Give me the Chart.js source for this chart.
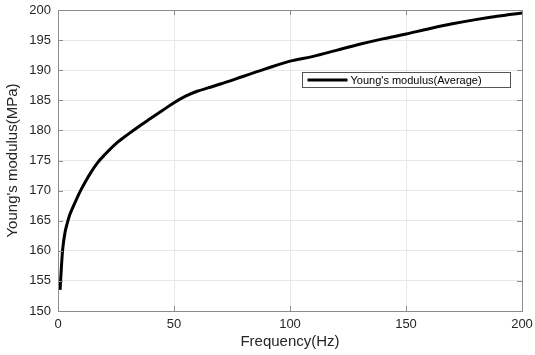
<!DOCTYPE html>
<html>
<head>
<meta charset="utf-8">
<script src="https://cdn.jsdelivr.net/npm/chart.js@4"></script>
<style>
  html, body { margin: 0; padding: 0; background: #fff; }
  #wrap { width: 535px; height: 355px; }
</style>
</head>
<body>
<div id="wrap"><canvas id="chart" width="535" height="355"></canvas></div>
<script>
'use strict';
// frequency (Hz) and average Young's modulus (MPa)
const FREQ = [0.9, 1.5, 2, 3, 4, 5, 6.5, 8, 10, 12, 14, 17, 20, 25, 30, 35, 40, 45, 50, 55, 60,
              65, 70, 80, 90, 100, 110, 120, 130, 140, 150, 160, 170, 180, 190, 200]
const MODULUS = [153.5, 157.5, 160.2, 163.0, 164.6, 165.9, 167.3, 168.6, 170.2, 171.6, 172.9, 174.6, 175.9, 177.8, 179.3, 180.7, 182.0, 183.3, 184.6, 185.7, 186.5,
                 187.1, 187.7, 189.0, 190.3, 191.5, 192.3, 193.3, 194.3, 195.2, 196.0, 196.9, 197.7, 198.4, 199.0, 199.5]
const X_TICKS = [0, 50, 100, 150, 200]
const Y_TICKS = [150, 155, 160, 165, 170, 175, 180, 185, 190, 195, 200]
const SERIES_NAME = "Young's modulus(Average)"

const AXIS = '#262626'
const BOX = '#8c8c8c'
const GRID = '#e8e8e8'
const FONT = "'Liberation Sans', Arial, sans-serif"

// MATLAB-like box with inward ticks plus an in-axes legend
const boxPlugin = {
    id: 'box',
    afterDraw(chart) {
        const ctx = chart.ctx
        const a = chart.chartArea
        const xs = chart.scales.x, ys = chart.scales.y
        ctx.save()
        ctx.strokeStyle = BOX
        ctx.lineWidth = 1
        ctx.strokeRect(a.left + 0.5, a.top + 0.5, a.right - a.left, a.bottom - a.top)
        ctx.beginPath()
        for (const v of X_TICKS) {
            const px = Math.round(xs.getPixelForValue(v)) + 0.5
            ctx.moveTo(px, a.bottom); ctx.lineTo(px, a.bottom - 5)
            ctx.moveTo(px, a.top); ctx.lineTo(px, a.top + 5)
        }
        for (const v of Y_TICKS) {
            const py = Math.round(ys.getPixelForValue(v)) + 0.5
            ctx.moveTo(a.left, py); ctx.lineTo(a.left + 5, py)
            ctx.moveTo(a.right, py); ctx.lineTo(a.right - 5, py)
        }
        ctx.stroke()

        // legend box
        const lx = 302.5, ly = 72.5, lw = 208, lh = 15
        ctx.fillStyle = '#fff'
        ctx.fillRect(lx, ly, lw, lh)
        ctx.strokeStyle = '#555'
        ctx.strokeRect(lx, ly, lw, lh)
        ctx.strokeStyle = '#000'
        ctx.lineWidth = 3
        ctx.beginPath()
        ctx.moveTo(lx + 5, ly + lh / 2); ctx.lineTo(lx + 45, ly + lh / 2)
        ctx.stroke()
        ctx.fillStyle = '#000'
        ctx.font = '11px ' + FONT
        ctx.textBaseline = 'middle'
        ctx.fillText(SERIES_NAME, lx + 48, ly + lh / 2 + 0.5)
        ctx.restore()
    }
}

const ctx = document.getElementById('chart').getContext('2d')
const chart = new Chart(ctx, {
    type: 'line',
    data: {
        datasets: [{
            label: SERIES_NAME,
            data: FREQ.map((f, i) => ({ x: f, y: MODULUS[i] })),
            borderColor: '#000',
            borderWidth: 3,
            pointRadius: 0,
            cubicInterpolationMode: 'monotone',
            fill: false
        }]
    },
    options: {
        responsive: false,
        animation: false,
        layout: { padding: { top: 10, right: 13, bottom: 0, left: 0 } },
        plugins: {
            legend: { display: false },
            tooltip: { enabled: false }
        },
        scales: {
            x: {
                type: 'linear',
                min: 0, max: 200,
                afterBuildTicks: s => { s.ticks = X_TICKS.map(v => ({ value: v })) },
                afterFit: s => { s.height = 44; s.paddingLeft = 0; s.paddingRight = 0 },
                grid: { color: GRID, drawTicks: false },
                border: { display: false },
                ticks: { color: AXIS, font: { family: FONT, size: 13 }, padding: 6, maxRotation: 0 },
                title: { display: true, text: 'Frequency(Hz)', color: AXIS, font: { family: FONT, size: 15 }, padding: { top: 0 } }
            },
            y: {
                type: 'linear',
                min: 150, max: 200,
                afterBuildTicks: s => { s.ticks = Y_TICKS.map(v => ({ value: v })) },
                afterFit: s => { s.width = 58; s.paddingTop = 0; s.paddingBottom = 0 },
                grid: { color: GRID, drawTicks: false },
                border: { display: false },
                ticks: { color: AXIS, font: { family: FONT, size: 13 }, padding: 7 },
                title: { display: true, text: "Young's modulus(MPa)", color: AXIS, font: { family: FONT, size: 15 }, padding: { bottom: 1 } }
            }
        }
    },
    plugins: [boxPlugin]
})
</script>
</body>
</html>
